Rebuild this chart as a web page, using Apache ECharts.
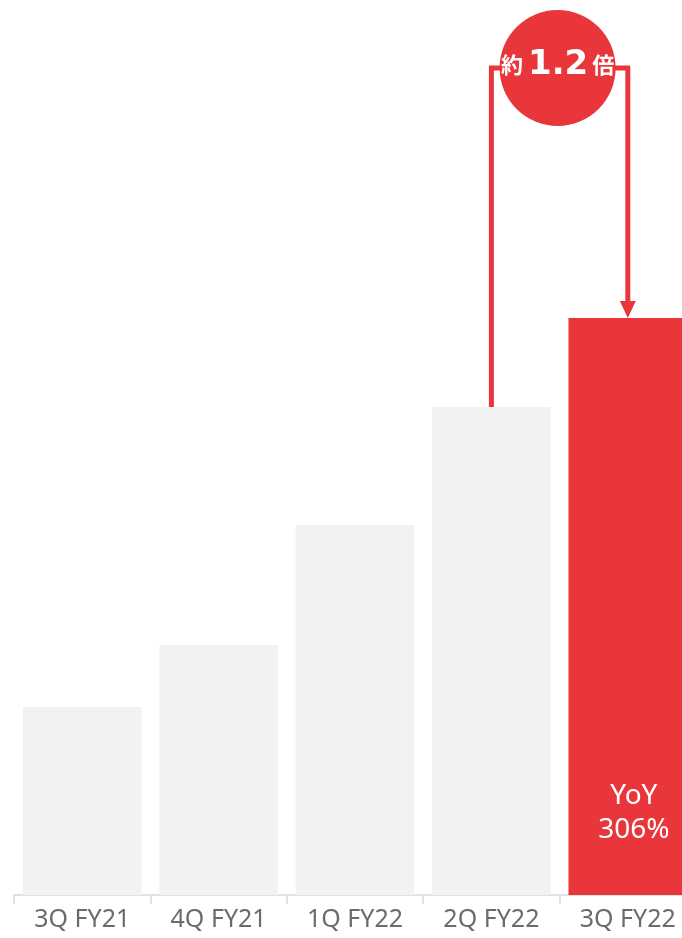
<!DOCTYPE html>
<html><head><meta charset="utf-8">
<script src="https://cdn.jsdelivr.net/npm/echarts@6/dist/echarts.min.js"></script>
<style>html,body{margin:0;padding:0;background:#fff}#c{width:682px;height:938px}</style>
</head><body><div id="c"></div>
<script>
const categories = ['3Q FY21','4Q FY21','1Q FY22','2Q FY22','3Q FY22'];
const values = [188, 250, 370, 488, 577];
const yMax = 895;
const bracketLevel = 827;
const multipleText = ['約', '1.2', '倍'];
const yoyText = ['YoY', '306%'];

const RED = '#E8363A', GRAY = '#F2F2F2';
const chart = echarts.init(document.getElementById('c'));
chart.setOption({
  animation: false,
  grid: {left: 14, top: 0, right: -14, bottom: 43, containLabel: false, outerBoundsMode: 'none'},
  xAxis: {
    type: 'category', data: categories,
    axisLine: {lineStyle: {color: '#E2E2E2', width: 2}},
    axisTick: {show: true, length: 9, lineStyle: {color: '#E2E2E2', width: 2}},
    axisLabel: {color: '#6B6B6B', fontSize: 25, fontFamily: 'Noto Sans', margin: 12}
  },
  yAxis: {type: 'value', min: 0, max: yMax, show: false},
  series: [{
    type: 'bar', barCategoryGap: '13%',
    data: values.map((v, i) => ({
      value: v,
      itemStyle: {color: i === values.length - 1 ? RED : GRAY},
      label: i === values.length - 1 ? {
        show: true, position: 'insideBottom', distance: 48,
        formatter: yoyText.join('\n'), color: '#fff', fontSize: 28,
        lineHeight: 34, fontFamily: 'Noto Sans', offset: [6, 0]
      } : {show: false}
    }))
  }]
});

const n = values.length;
const pPrev = chart.convertToPixel({seriesIndex: 0}, [n - 2, values[n - 2]]);
const pLast = chart.convertToPixel({seriesIndex: 0}, [n - 1, values[n - 1]]);
const pTop = chart.convertToPixel({seriesIndex: 0}, [n - 1, bracketLevel]);
const xl = pPrev[0], xr = pLast[0], yt = pTop[1];
const cx = (xl + xr) / 2;
chart.setOption({
  graphic: [
    {type: 'polyline', shape: {points: [[xl, pPrev[1]], [xl, yt], [xr, yt], [xr, pLast[1] - 15]]},
     style: {stroke: RED, lineWidth: 5, fill: null}},
    {type: 'polygon', shape: {points: [[xr - 8, pLast[1] - 17], [xr + 8, pLast[1] - 17], [xr, pLast[1]]]},
     style: {fill: RED}},
    {type: 'circle', shape: {cx: cx - 2, cy: yt, r: 58}, style: {fill: RED}},
    {type: 'text', x: cx - 2, y: yt - 3,
     style: {
       text: '{a|' + multipleText[0] + '}{b|' + multipleText[1] + '}{a|' + multipleText[2] + '}',
       align: 'center', verticalAlign: 'middle',
       rich: {
         a: {fontSize: 22, fontWeight: 'bold', fill: '#fff', fontFamily: 'Noto Sans CJK JP'},
         b: {fontSize: 34, fontWeight: 'bold', fill: '#fff', fontFamily: 'DejaVu Sans', padding: [0, 4, 0, 5]}
       }
     }}
  ]
});
</script></body></html>
